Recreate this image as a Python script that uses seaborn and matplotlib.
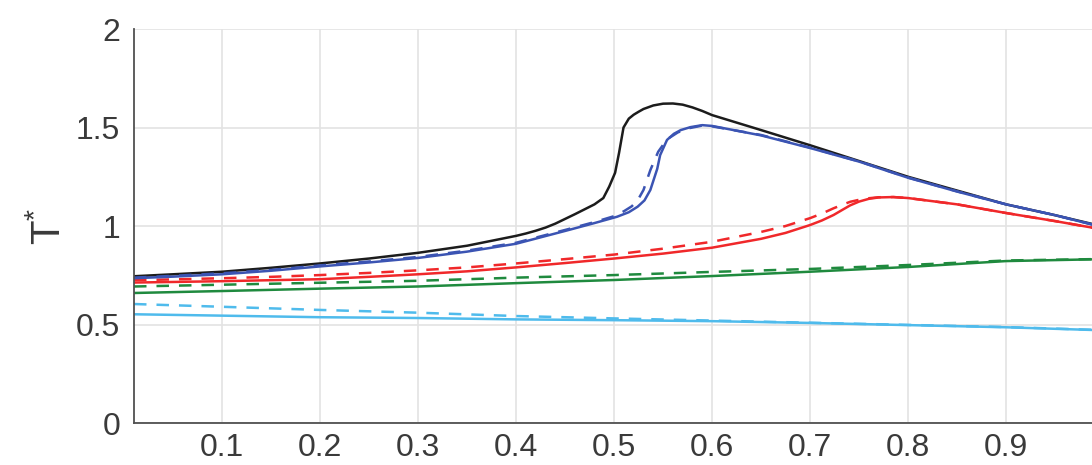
import matplotlib
matplotlib.use("Agg")
import matplotlib.pyplot as plt
import seaborn as sns
import pandas as pd

# ---- data -------------------------------------------------------------
x_black = [0.01, 0.05, 0.1, 0.15, 0.2, 0.25, 0.3, 0.35, 0.4, 0.41, 0.42, 0.43,
           0.44, 0.45, 0.46, 0.47, 0.48, 0.489, 0.495, 0.501, 0.505, 0.5096,
           0.515, 0.52, 0.525, 0.53, 0.54, 0.55, 0.56, 0.57, 0.58, 0.59, 0.6,
           0.65, 0.7, 0.75, 0.8, 0.85, 0.9, 0.95, 0.99]
t_black = [0.745, 0.755, 0.768, 0.788, 0.81, 0.835, 0.864, 0.9, 0.95, 0.962,
           0.976, 0.992, 1.012, 1.036, 1.06, 1.085, 1.11, 1.142, 1.2, 1.27, 1.37,
           1.50, 1.545, 1.565, 1.58, 1.594, 1.612, 1.621, 1.622, 1.616, 1.602,
           1.584, 1.563, 1.487, 1.41, 1.33, 1.25, 1.18, 1.11, 1.055, 1.008]

x_blue = [0.01, 0.05, 0.1, 0.15, 0.2, 0.25, 0.3, 0.35, 0.4, 0.45, 0.48, 0.503,
          0.515, 0.524, 0.531, 0.537, 0.544, 0.547, 0.554, 0.561, 0.568, 0.578,
          0.59, 0.6, 0.65, 0.7, 0.75, 0.8, 0.85, 0.9, 0.95, 0.99]
t_blue = [0.735, 0.743, 0.755, 0.773, 0.795, 0.815, 0.838, 0.87, 0.91, 0.975,
          1.015, 1.047, 1.07, 1.098, 1.13, 1.183, 1.29, 1.36, 1.437, 1.468,
          1.487, 1.502, 1.512, 1.508, 1.46, 1.396, 1.327, 1.245, 1.175, 1.11,
          1.055, 1.005]

x_blue_d = [0.01, 0.05, 0.1, 0.15, 0.2, 0.25, 0.3, 0.35, 0.4, 0.45, 0.48, 0.5,
            0.51, 0.518, 0.524, 0.53, 0.537, 0.545, 0.554, 0.565, 0.575, 0.59,
            0.6, 0.65, 0.7, 0.75, 0.8, 0.85, 0.9, 0.95, 0.99]
t_blue_d = [0.738, 0.747, 0.76, 0.777, 0.8, 0.82, 0.843, 0.875, 0.915, 0.98,
            1.02, 1.05, 1.075, 1.1, 1.13, 1.183, 1.284, 1.377, 1.44, 1.475,
            1.495, 1.51, 1.506, 1.462, 1.398, 1.328, 1.246, 1.176, 1.11, 1.055,
            1.005]

x_red = [0.01, 0.05, 0.1, 0.15, 0.2, 0.25, 0.3, 0.35, 0.4, 0.45, 0.5, 0.55, 0.6,
         0.65, 0.675, 0.7, 0.712, 0.724, 0.734, 0.741, 0.75, 0.76, 0.77, 0.785,
         0.8, 0.85, 0.9, 0.95, 0.99]
t_red = [0.713, 0.716, 0.72, 0.725, 0.73, 0.742, 0.755, 0.77, 0.79, 0.812, 0.835,
         0.86, 0.89, 0.935, 0.965, 1.005, 1.028, 1.056, 1.085, 1.105, 1.124,
         1.138, 1.145, 1.147, 1.142, 1.11, 1.066, 1.025, 0.99]
t_red_d = [0.725, 0.729, 0.735, 0.742, 0.751, 0.762, 0.775, 0.79, 0.81, 0.832,
           0.855, 0.885, 0.92, 0.97, 1.0, 1.04, 1.063, 1.09, 1.11, 1.123, 1.133,
           1.141, 1.146, 1.147, 1.142, 1.11, 1.066, 1.025, 0.99]

x_low = [0.01, 0.1, 0.2, 0.3, 0.4, 0.5, 0.6, 0.7, 0.8, 0.9, 0.99]
t_green = [0.66, 0.67, 0.682, 0.693, 0.71, 0.726, 0.746, 0.768, 0.792, 0.822, 0.831]
t_green_d = [0.693, 0.702, 0.712, 0.722, 0.738, 0.751, 0.767, 0.782, 0.802, 0.825, 0.832]
t_cyan = [0.552, 0.545, 0.537, 0.533, 0.526, 0.522, 0.517, 0.508, 0.497, 0.486, 0.472]
t_cyan_d = [0.604, 0.59, 0.574, 0.56, 0.543, 0.531, 0.52, 0.509, 0.498, 0.487, 0.473]

x_ticks = [0.1, 0.2, 0.3, 0.4, 0.5, 0.6, 0.7, 0.8, 0.9]
x_tick_labels = ["0.1", "0.2", "0.3", "0.4", "0.5", "0.6", "0.7", "0.8", "0.9"]
y_ticks = [0, 0.5, 1, 1.5, 2]
y_tick_labels = ["0", "0.5", "1", "1.5", "2"]

# ---- style ------------------------------------------------------------
sns.set_style("whitegrid")
plt.rcParams["font.family"] = ["Liberation Sans", "DejaVu Sans"]
plt.rcParams["mathtext.default"] = "regular"

C_BLACK = "#1c1c1c"
C_BLUE = "#3b54b3"
C_RED = "#f0282a"
C_GREEN = "#1f8a3e"
C_CYAN = "#4fbbec"
DASH = (5.0, 4.0)
LW = 1.8

fig = plt.figure(figsize=(10.92, 4.65), dpi=100)
ax = fig.add_axes([0.1227, 0.0903, 0.8883, 0.8473])

series = [
    (x_low, t_cyan_d, C_CYAN, True),
    (x_low, t_cyan, C_CYAN, False),
    (x_low, t_green_d, C_GREEN, True),
    (x_low, t_green, C_GREEN, False),
    (x_red, t_red_d, C_RED, True),
    (x_red, t_red, C_RED, False),
    (x_black, t_black, C_BLACK, False),
    (x_blue_d, t_blue_d, C_BLUE, True),
    (x_blue, t_blue, C_BLUE, False),
]

for xs, ys, col, dashed in series:
    df = pd.DataFrame({"x": xs, "T": ys})
    line_ax = sns.lineplot(data=df, x="x", y="T", ax=ax, color=col, lw=LW,
                           estimator=None, sort=False, legend=False)
    if dashed:
        line_ax.get_lines()[-1].set_dashes(DASH)

ax.set_xlim(0.01, 1.0)
ax.set_ylim(0, 2)
ax.set_xticks(x_ticks)
ax.set_xticklabels(x_tick_labels)
ax.set_yticks(y_ticks)
ax.set_yticklabels(y_tick_labels)
ax.set_xlabel("")
ax.set_ylabel(r"T$^{*}$", fontsize=29, color="#3a3a3a", labelpad=6)

ax.grid(True, color="#e3e3e3", lw=1.2)
ax.set_axisbelow(True)
for side in ("top", "right"):
    ax.spines[side].set_visible(False)
for side in ("left", "bottom"):
    ax.spines[side].set_color("#505050")
    ax.spines[side].set_linewidth(1.3)

ax.tick_params(axis="both", direction="in", length=8, width=1.2,
               colors="#505050", labelcolor="#3a3a3a", labelsize=23)
ax.tick_params(axis="x", pad=7)
ax.tick_params(axis="y", pad=10)

fig.savefig("out.png", dpi=100)
